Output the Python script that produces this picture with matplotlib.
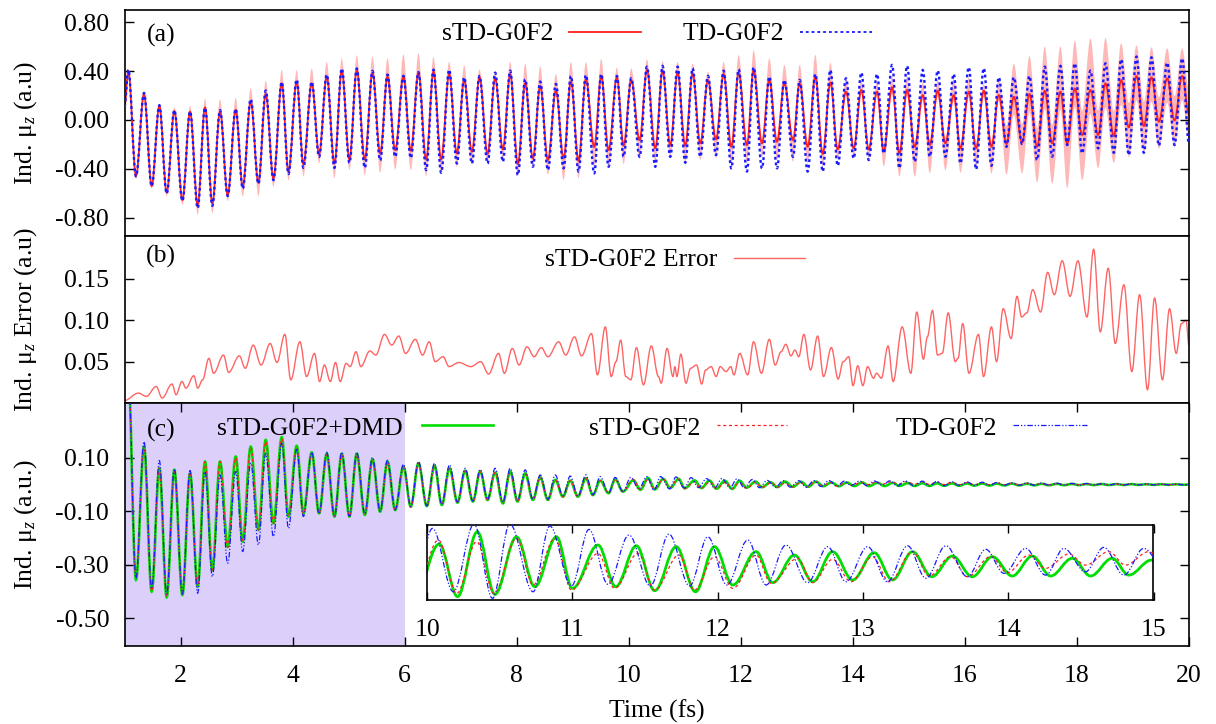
import numpy as np
import matplotlib
matplotlib.use("Agg")
import matplotlib.pyplot as plt
from matplotlib.path import Path
from matplotlib.patches import PathPatch
from matplotlib.ticker import FormatStrFormatter

plt.rcParams.update({
    "font.family": "Liberation Serif",
    "mathtext.fontset": "custom",
    "mathtext.rm": "Liberation Serif",
    "mathtext.it": "Liberation Serif:italic",
    "axes.unicode_minus": False,
})
FS = 18.5

# ---------------- panel (a): extrema of the induced dipole ----------------
ta = [1.000, 1.068, 1.205, 1.348, 1.485, 1.622, 1.753, 1.890, 2.033, 2.170,
      2.306, 2.437, 2.568, 2.705, 2.842, 2.985, 3.110, 3.253, 3.390, 3.521,
      3.658, 3.807, 3.926, 4.074, 4.193, 4.342, 4.473, 4.610, 4.747, 4.878,
      5.015, 5.146, 5.289, 5.426, 5.563, 5.694, 5.831, 5.979, 6.110, 6.247,
      6.384, 6.515, 6.652, 6.795, 6.932, 7.063, 7.200, 7.337, 7.480, 7.616,
      7.753, 7.884, 8.021, 8.152, 8.289, 8.420, 8.557, 8.700, 8.837, 8.968,
      9.104, 9.235, 9.384, 9.509, 9.640, 9.789, 9.908, 10.045, 10.194, 10.325,
      10.474, 10.604, 10.741, 10.872, 11.009, 11.140, 11.277, 11.414, 11.557, 11.694,
      11.831, 11.962, 12.110, 12.229, 12.378, 12.509, 12.646, 12.777, 12.932, 13.051,
      13.194, 13.331, 13.462, 13.599, 13.730, 13.878, 14.015, 14.152, 14.283, 14.432,
      14.551, 14.700, 14.831, 14.968, 15.105, 15.248, 15.373, 15.515, 15.652, 15.801,
      15.920, 16.069, 16.200, 16.337, 16.474, 16.605, 16.742, 16.873, 17.021, 17.152,
      17.289, 17.426, 17.557, 17.706, 17.825, 17.962, 18.093, 18.241, 18.378, 18.509,
      18.658, 18.789, 18.926, 19.063, 19.194, 19.331, 19.462, 19.611, 19.741, 19.878,
      20.000]
red_a = [0.11, 0.400, -0.457, 0.212, -0.539, 0.114, -0.593, 0.073, -0.653, 0.068,
         -0.694, 0.103, -0.680, 0.068, -0.612, 0.082, -0.544, 0.150, -0.512, 0.212,
         -0.476, 0.299, -0.422, 0.313, -0.359, 0.299, -0.278, 0.354, -0.354, 0.403,
         -0.321, 0.408, -0.321, 0.386, -0.272, 0.354, -0.245, 0.354, -0.250, 0.386,
         -0.321, 0.394, -0.321, 0.375, -0.272, 0.326, -0.258, 0.348, -0.277, 0.340,
         -0.239, 0.375, -0.359, 0.299, -0.313, 0.277, -0.326, 0.239, -0.313, 0.313,
         -0.332, 0.332, -0.220, 0.359, -0.245, 0.348, -0.209, 0.326, -0.163, 0.408,
         -0.231, 0.403, -0.204, 0.386, -0.209, 0.381, -0.190, 0.326, -0.158, 0.375,
         -0.218, 0.386, -0.204, 0.408, -0.190, 0.326, -0.177, 0.299, -0.163, 0.299,
         -0.218, 0.354, -0.277, 0.305, -0.239, 0.231, -0.231, 0.245, -0.239, 0.231,
         -0.258, 0.267, -0.272, 0.245, -0.218, 0.204, -0.204, 0.239, -0.190, 0.204,
         -0.231, 0.231, -0.231, 0.239, -0.218, 0.204, -0.196, 0.190, -0.185, 0.212,
         -0.218, 0.239, -0.190, 0.231, -0.196, 0.258, -0.122, 0.245, -0.122, 0.299,
         -0.131, 0.326, -0.060, 0.359, -0.049, 0.348, -0.014, 0.340, -0.005, 0.359,
         0.05]
blue_a = [0.11, 0.41, -0.46, 0.22, -0.54, 0.12, -0.60, 0.08, -0.66, 0.07,
          -0.72, 0.10, -0.70, 0.08, -0.62, 0.09, -0.56, 0.17, -0.52, 0.24,
          -0.49, 0.31, -0.44, 0.33, -0.39, 0.31, -0.30, 0.37, -0.39, 0.42,
          -0.35, 0.42, -0.39, 0.40, -0.33, 0.37, -0.30, 0.36, -0.31, 0.39,
          -0.408, 0.41, -0.43, 0.41, -0.354, 0.348, -0.354, 0.359, -0.354, 0.386,
          -0.340, 0.402, -0.449, 0.332, -0.381, 0.313, -0.408, 0.294, -0.394, 0.359,
          -0.420, 0.367, -0.435, 0.375, -0.381, 0.359, -0.299, 0.340, -0.300, 0.435,
          -0.381, 0.441, -0.300, 0.435, -0.348, 0.422, -0.300, 0.359, -0.286, 0.402,
          -0.394, 0.413, -0.420, 0.430, -0.394, 0.354, -0.394, 0.326, -0.300, 0.326,
          -0.420, 0.375, -0.420, 0.408, -0.373, 0.340, -0.313, 0.386, -0.326, 0.375,
          -0.272, 0.449, -0.394, 0.441, -0.340, 0.408, -0.299, 0.403, -0.299, 0.375,
          -0.354, 0.430, -0.403, 0.422, -0.373, 0.348, -0.218, 0.348, -0.196, 0.359,
          -0.326, 0.435, -0.299, 0.441, -0.204, 0.462, -0.272, 0.403, -0.231, 0.462,
          -0.267, 0.495, -0.286, 0.517, -0.267, 0.511, -0.209, 0.468, -0.204, 0.503,
          -0.20]
# spread of the sTD band beyond each extremum (outward) and towards the centre (inward)
band_out = [0.02, 0.02, 0.02, 0.02, 0.02, 0.02, 0.03, 0.03, 0.04, 0.05,
            0.08, 0.07, 0.08, 0.10, 0.05, 0.10, 0.08, 0.11, 0.11, 0.11,
            0.07, 0.11, 0.07, 0.095, 0.10, 0.12, 0.076, 0.12, 0.12, 0.10,
            0.087, 0.12, 0.13, 0.13, 0.16, 0.15, 0.16, 0.18, 0.16, 0.16,
            0.136, 0.12, 0.114, 0.10, 0.11, 0.12, 0.11, 0.065, 0.076, 0.054,
            0.087, 0.10, 0.10, 0.16, 0.07, 0.16, 0.12, 0.136, 0.177, 0.16,
            0.144, 0.14, 0.175, 0.14, 0.15, 0.08, 0.15, 0.095, 0.15, 0.087,
            0.11, 0.079, 0.095, 0.09, 0.144, 0.08, 0.136, 0.068, 0.15, 0.10,
            0.15, 0.144, 0.15, 0.16, 0.11, 0.177, 0.15, 0.15, 0.177, 0.15,
            0.136, 0.177, 0.10, 0.163, 0.087, 0.11, 0.07, 0.08, 0.07, 0.08,
            0.12, 0.09, 0.19, 0.11, 0.245, 0.10, 0.23, 0.087, 0.22, 0.136,
            0.20, 0.117, 0.16, 0.06, 0.22, 0.136, 0.25, 0.27, 0.25, 0.31,
            0.29, 0.36, 0.33, 0.37, 0.36, 0.39, 0.37, 0.42, 0.27, 0.37,
            0.22, 0.30, 0.24, 0.25, 0.21, 0.245, 0.22, 0.245, 0.21, 0.225,
            0.20]
band_in = [0.02] * 100 + [0.05] * 16 + [0.15] * 10 + [0.2] * 15

# ---------------- panel (b): error of sTD-G0F2 ----------------
tb = [1.0, 1.249, 1.390, 1.566, 1.672, 1.849, 1.920, 2.026, 2.096, 2.237,
      2.308, 2.393, 2.506, 2.591, 2.767, 2.859, 3.050, 3.156, 3.297, 3.438,
      3.600, 3.721, 3.862, 3.968, 4.130, 4.250, 4.391, 4.483, 4.568, 4.674,
      4.766, 4.850, 4.956, 5.027, 5.133, 5.218, 5.380, 5.486, 5.641, 5.769,
      5.896, 6.016, 6.192, 6.320, 6.439, 6.545, 6.686, 6.793, 6.969, 7.181,
      7.357, 7.499, 7.675, 7.781, 7.922, 8.043, 8.184, 8.311, 8.438, 8.558,
      8.749, 8.876, 9.031, 9.158, 9.335, 9.441, 9.582, 9.687,
      9.772, 9.856, 9.947, 10.038, 10.137, 10.263, 10.403, 10.530, 10.579, 10.684,
      10.789, 10.824, 10.859, 10.930, 11.021, 11.105, 11.210, 11.302, 11.372, 11.470,
      11.561, 11.631, 11.737, 11.821, 11.877, 11.982, 12.123, 12.228, 12.368, 12.509,
      12.614, 12.719, 12.803, 12.895, 12.965, 13.035, 13.126, 13.245, 13.372, 13.477,
      13.617, 13.737, 13.828, 13.926, 14.003, 14.088, 14.179, 14.263, 14.368, 14.424,
      14.509, 14.628, 14.719, 14.880, 15.035, 15.140, 15.260, 15.330, 15.421, 15.512,
      15.596, 15.702, 15.828, 15.877, 15.961, 16.073, 16.242, 16.333, 16.474, 16.565,
      16.684, 16.824, 16.930, 17.014, 17.105, 17.210, 17.351, 17.477, 17.596, 17.737,
      17.877, 18.017, 18.179, 18.298, 18.417, 18.558, 18.684, 18.838, 18.979, 19.119,
      19.259, 19.386, 19.526, 19.653, 19.772, 19.863, 19.947, 20.0]
err_b = [0.003, 0.012, 0.008, 0.020, 0.006, 0.023, 0.010, 0.026, 0.018, 0.033,
         0.018, 0.028, 0.054, 0.036, 0.058, 0.037, 0.057, 0.042, 0.070, 0.046,
         0.072, 0.049, 0.083, 0.028, 0.074, 0.032, 0.060, 0.026, 0.046, 0.026,
         0.049, 0.026, 0.048, 0.044, 0.062, 0.044, 0.063, 0.058, 0.083, 0.070,
         0.081, 0.060, 0.077, 0.058, 0.074, 0.050, 0.056, 0.044, 0.049, 0.044,
         0.050, 0.035, 0.060, 0.036, 0.066, 0.046, 0.068, 0.056, 0.067, 0.056,
         0.074, 0.058, 0.080, 0.057, 0.084, 0.034, 0.092, 0.032,
         0.050, 0.076, 0.032, 0.028, 0.067, 0.022, 0.069, 0.032, 0.024, 0.066,
         0.032, 0.044, 0.032, 0.059, 0.024, 0.042, 0.046, 0.023, 0.040, 0.044,
         0.032, 0.044, 0.038, 0.044, 0.034, 0.060, 0.034, 0.074, 0.036, 0.077,
         0.046, 0.062, 0.071, 0.057, 0.064, 0.056, 0.083, 0.040, 0.081, 0.032,
         0.067, 0.029, 0.050, 0.056, 0.021, 0.045, 0.021, 0.044, 0.030, 0.036,
         0.030, 0.069, 0.026, 0.092, 0.036, 0.110, 0.053, 0.080, 0.112, 0.058,
         0.060, 0.109, 0.050, 0.054, 0.096, 0.036, 0.083, 0.032, 0.092, 0.050,
         0.114, 0.078, 0.129, 0.104, 0.109, 0.137, 0.110, 0.158, 0.131, 0.172,
         0.129, 0.172, 0.104, 0.186, 0.086, 0.163, 0.072, 0.143, 0.038, 0.131,
         0.016, 0.127, 0.028, 0.114, 0.060, 0.096, 0.100, 0.070]

# ---------------- panel (c): DMD extrapolation ----------------
tc_early = [1.000, 1.060, 1.205, 1.348, 1.485, 1.622, 1.753, 1.890, 2.033, 2.170,
            2.306, 2.437, 2.568, 2.705, 2.842, 2.985, 3.110, 3.253, 3.390, 3.521,
            3.658, 3.807, 3.926, 4.074, 4.193, 4.342, 4.473, 4.610, 4.747, 4.878,
            5.015, 5.146, 5.289, 5.426, 5.563, 5.694, 5.831, 5.979, 6.110, 6.247,
            6.396, 6.533, 6.664, 6.801, 6.944, 7.081, 7.218, 7.349, 7.480, 7.616,
            7.753, 7.884, 8.015, 8.152, 8.289, 8.420, 8.557, 8.688, 8.825, 8.956,
            9.093, 9.235, 9.360, 9.491, 9.640, 9.759, 9.896]
dmd_early = [0.38, 0.45, -0.357, 0.141, -0.401, 0.060, -0.422, 0.054, -0.413, 0.041,
             -0.382, 0.085, -0.320, 0.085, -0.233, 0.104, -0.214, 0.141, -0.170, 0.166,
             -0.145, 0.176, -0.120, 0.144, -0.108, 0.119, -0.108, 0.114, -0.120, 0.114,
             -0.120, 0.114, -0.114, 0.094, -0.102, 0.085, -0.096, 0.066, -0.083, 0.079,
             -0.081, 0.069, -0.077, 0.060, -0.068, 0.051, -0.064, 0.048, -0.058, 0.044,
             -0.071, 0.048, -0.064, 0.041, -0.058, 0.026, -0.058, 0.017, -0.046, 0.014,
             -0.046, 0.023, -0.040, 0.014, -0.033, 0.019, -0.027]
std_early = [0.38, 0.45, -0.35, 0.14, -0.40, 0.06, -0.42, 0.054, -0.41, 0.045,
             -0.38, 0.085, -0.32, 0.085, -0.235, 0.10, -0.21, 0.14, -0.17, 0.16,
             -0.145, 0.17, -0.12, 0.14, -0.11, 0.115, -0.11, 0.11, -0.12, 0.11,
             -0.12, 0.11, -0.11, 0.09, -0.10, 0.08, -0.095, 0.066, -0.085, 0.079,
             -0.08, 0.069, -0.075, 0.06, -0.068, 0.05, -0.064, 0.047, -0.058, 0.044,
             -0.07, 0.046, -0.063, 0.04, -0.057, 0.026, -0.057, 0.017, -0.046, 0.014,
             -0.046, 0.022, -0.04, 0.014, -0.033, 0.019, -0.027]
td_early = [0.38, 0.45, -0.35, 0.16, -0.39, 0.089, -0.41, 0.058, -0.41, 0.052,
            -0.407, 0.048, -0.345, 0.035, -0.295, 0.048, -0.251, 0.08, -0.226, 0.116,
            -0.195, 0.154, -0.164, 0.13, -0.12, 0.12, -0.11, 0.12, -0.12, 0.12,
            -0.12, 0.12, -0.11, 0.10, -0.10, 0.09, -0.095, 0.075, -0.083, 0.085,
            -0.08, 0.079, -0.075, 0.073, -0.066, 0.06, -0.062, 0.056, -0.056, 0.06,
            -0.066, 0.06, -0.06, 0.054, -0.055, 0.035, -0.055, 0.035, -0.044, 0.031,
            -0.044, 0.035, -0.038, 0.029, -0.032, 0.026, -0.027]

# 10-15 fs window
t_dmd_mid = [10.083, 10.209, 10.345, 10.466, 10.615, 10.741, 10.890, 11.000, 11.176, 11.298,
             11.440, 11.566, 11.714, 11.847, 11.978, 12.104, 12.264, 12.379, 12.528, 12.654,
             12.791, 12.929, 13.077, 13.203, 13.341, 13.474, 13.616, 13.753, 13.891, 14.028,
             14.166, 14.292, 14.441, 14.567, 14.716, 14.830, 14.986]
dmd_mid = [0.0154, -0.0203, 0.0237, -0.0188, 0.0203, -0.0136, 0.0203, -0.0147, 0.0147, -0.0136,
           0.0142, -0.0163, 0.0136, -0.0170, 0.0136, -0.0124, 0.0102, -0.0108, 0.0079, -0.0102,
           0.0102, -0.0090, 0.0095, -0.0090, 0.0102, -0.0068, 0.0072, -0.0068, 0.0068, -0.0063,
           0.0072, -0.0063, 0.0057, -0.0063, 0.0057, -0.0057, 0.0045]
t_std_mid = [10.077, 10.203, 10.340, 10.459, 10.615, 10.729, 10.878, 10.993, 11.176, 11.290,
             11.451, 11.566, 11.733, 11.840, 11.978, 12.104, 12.264, 12.367, 12.550, 12.654,
             12.791, 12.917, 13.066, 13.181, 13.341, 13.455, 13.604, 13.719, 13.879, 13.994,
             14.143, 14.257, 14.418, 14.532, 14.693, 14.807, 14.967]
std_mid = [0.0181, -0.0181, 0.0170, -0.0181, 0.0192, -0.0124, 0.0192, -0.0158, 0.0090, -0.0147,
           0.0090, -0.0158, 0.0079, -0.0158, 0.0068, -0.0147, 0.0079, -0.0113, 0.0057, -0.0108,
           0.0050, -0.0102, 0.0068, -0.0102, 0.0102, -0.0063, 0.0068, -0.0068, 0.0068, -0.0041,
           0.0079, -0.0011, 0.0086, 0.0011, 0.0102, 0.0011, 0.0102]
t_td_mid = [10.036, 10.180, 10.322, 10.450, 10.569, 10.729, 10.844, 10.993, 11.114, 11.245,
            11.389, 11.536, 11.664, 11.806, 11.932, 12.063, 12.207, 12.333, 12.470, 12.619,
            12.757, 12.883, 13.032, 13.169, 13.307, 13.433, 13.570, 13.719, 13.845, 13.971,
            14.120, 14.257, 14.383, 14.532, 14.658, 14.796, 14.933]
td_mid = [0.0260, -0.0170, 0.0289, -0.0215, 0.0289, -0.0170, 0.0276, -0.0131, 0.0253, -0.0120,
          0.0215, -0.0131, 0.0221, -0.0131, 0.0203, -0.0124, 0.0181, -0.0124, 0.0147, -0.0108,
          0.0136, -0.0102, 0.0136, -0.0102, 0.0142, -0.0079, 0.0142, -0.0068, 0.0118, -0.0045,
          0.0124, -0.0057, 0.0124, -0.0034, 0.0131, -0.0057, 0.0124]

tc_late = [15.10, 15.24, 15.37, 15.50, 15.63, 15.77, 15.90, 16.04, 16.17, 16.31,
           16.44, 16.57, 16.70, 16.84, 16.97, 17.11, 17.24, 17.37, 17.50, 17.64,
           17.77, 17.91, 18.04, 18.17, 18.30, 18.44, 18.57, 18.71, 18.84, 18.97,
           19.10, 19.24, 19.37, 19.50, 19.64, 19.77, 19.90, 20.00]
dmd_late = [-0.0060, 0.0042, -0.0056, 0.0040, -0.0052, 0.0036, -0.0050, 0.0034, -0.0046, 0.0030,
            -0.0044, 0.0028, -0.0040, 0.0026, -0.0037, 0.0022, -0.0035, 0.0020, -0.0032, 0.0018,
            -0.0030, 0.0015, -0.0028, 0.0013, -0.0026, 0.0011, -0.0024, 0.0009, -0.0022, 0.0008,
            -0.0020, 0.0006, -0.0019, 0.0005, -0.0017, 0.0004, -0.0016, -0.0006]
std_late = [0.0005, 0.0095, 0.0000, 0.0085, -0.0005, 0.0075, -0.0010, 0.0065, -0.0012, 0.0055,
            -0.0015, 0.0048, -0.0016, 0.0040, -0.0018, 0.0034, -0.0019, 0.0028, -0.0020, 0.0024,
            -0.0020, 0.0020, -0.0020, 0.0016, -0.0020, 0.0013, -0.0019, 0.0011, -0.0018, 0.0009,
            -0.0017, 0.0008, -0.0016, 0.0006, -0.0015, 0.0005, -0.0014, -0.0005]
td_late = [-0.0060, 0.0120, -0.0055, 0.0110, -0.0050, 0.0100, -0.0045, 0.0090, -0.0042, 0.0080,
           -0.0040, 0.0070, -0.0037, 0.0062, -0.0035, 0.0055, -0.0033, 0.0048, -0.0030, 0.0042,
           -0.0028, 0.0036, -0.0026, 0.0030, -0.0024, 0.0026, -0.0022, 0.0022, -0.0021, 0.0018,
           -0.0020, 0.0015, -0.0019, 0.0012, -0.0018, 0.0010, -0.0017, -0.0005]

RED = "#ff2020"
PINK = "#ffb8b8"
BLUE = "#1a1aff"
GREEN = "#00dd00"
LAVENDER = "#dcd0fa"


def bezier(t, v):
    """Smooth path through the extrema (flat tangent at each one)."""
    verts = [(t[0], v[0])]
    codes = [Path.MOVETO]
    for i in range(1, len(t)):
        h = 0.36 * (t[i] - t[i - 1])
        verts += [(t[i - 1] + h, v[i - 1]), (t[i] - h, v[i]), (t[i], v[i])]
        codes += [Path.CURVE4] * 3
    return verts, codes


def curve(ax, t, v, **kw):
    verts, codes = bezier(t, v)
    ax.add_patch(PathPatch(Path(verts, codes), fill=False, **kw))


def band(ax, t, v, out, inn, **kw):
    v = np.asarray(v)
    peak = np.arange(len(v)) % 2 == 1
    hi = v + np.where(peak, out, inn)
    lo = v - np.where(peak, inn, out)
    vu, cu = bezier(t, hi)
    vl, cl = bezier(t[::-1], lo[::-1])
    cl[0] = Path.LINETO
    path = Path(vu + vl + [vu[0]], cu + cl + [Path.CLOSEPOLY])
    ax.add_patch(PathPatch(path, **kw))


def key(ax, text, xt, x0, x1, yt, yl, **kw):
    ax.text(xt, yt, text, transform=ax.transAxes, ha="right", va="center", fontsize=FS)
    ax.plot([x0, x1], [yl, yl], transform=ax.transAxes, **kw)


def style(ax, xticks):
    for s in ax.spines.values():
        s.set_linewidth(1.2)
    ax.set_xlim(1, 20)
    ax.tick_params(axis="y", direction="in", left=True, right=True, length=6.5,
                   width=1, labelsize=FS, pad=11)
    if xticks:
        ax.set_xticks(range(2, 21, 2))
        ax.tick_params(axis="x", direction="in", top=True, bottom=True, length=6.5,
                       width=1, labelsize=FS, pad=14)
    else:
        ax.tick_params(axis="x", bottom=False, top=False, labelbottom=False)
    ax.yaxis.set_major_formatter(FormatStrFormatter("%.2f"))


fig = plt.figure(figsize=(12.16, 7.24), dpi=100)
L, W = 124.5 / 1216, 1064.5 / 1216


def axes_px(top, bottom):
    return fig.add_axes([L, 1 - bottom / 724, W, (bottom - top) / 724])


ax_a = axes_px(10, 236)
ax_b = axes_px(236, 403)
ax_c = axes_px(403, 646)

DOT_B = (0, (1.2, 1.2))

# (a)
style(ax_a, False)
ax_a.set_ylim(-0.947, 0.898)
ax_a.set_yticks([0.8, 0.4, 0.0, -0.4, -0.8])
ta_arr = np.array(ta)
band(ax_a, ta_arr, red_a, np.array(band_out), np.array(band_in),
     facecolor=PINK, edgecolor="none", zorder=1)
curve(ax_a, ta, red_a, edgecolor=RED, lw=1.3, zorder=2)
curve(ax_a, ta, blue_a, edgecolor=BLUE, lw=1.7, linestyle=DOT_B, zorder=3)
ax_a.text(0.0211, 0.889, "(a)", transform=ax_a.transAxes, ha="left", va="center", fontsize=FS)
key(ax_a, "sTD-G0F2", 0.4025, 0.4176, 0.4852, 0.894, 0.903, color=RED, lw=1.3)
key(ax_a, "TD-G0F2", 0.6195, 0.6346, 0.7022, 0.894, 0.903, color=BLUE, lw=1.3,
    linestyle=(0, (1.6, 1.6)))
ax_a.set_ylabel("Ind. μ$_z$ (a.u)", fontsize=FS)
ax_a.yaxis.set_label_coords(-0.080, 0.5)

# (b)
style(ax_b, False)
ax_b.set_ylim(0.0, 0.202)
ax_b.set_yticks([0.05, 0.10, 0.15])
curve(ax_b, tb, err_b, edgecolor="#ff6464", lw=1.0)
ax_b.text(0.0202, 0.880, "(b)", transform=ax_b.transAxes, ha="left", va="center", fontsize=FS)
key(ax_b, "sTD-G0F2 Error", 0.5566, 0.5722, 0.6393, 0.856, 0.868, color="#ff6464", lw=1.0)
ax_b.set_ylabel("Ind. μ$_z$ Error (a.u)", fontsize=FS)
ax_b.yaxis.set_label_coords(-0.080, 0.5)

# (c)
style(ax_c, True)
ax_c.set_ylim(-0.604, 0.304)
ax_c.set_yticks([0.1, -0.1, -0.3, -0.5])
ax_c.axvspan(1, 6, color=LAVENDER, lw=0, zorder=0)

t_dmd = tc_early + t_dmd_mid + tc_late
v_dmd = dmd_early + dmd_mid + dmd_late
t_std = tc_early + t_std_mid + tc_late
v_std = std_early + std_mid + std_late
t_td = tc_early + t_td_mid + tc_late
v_td = td_early + td_mid + td_late

DASH_R = (0, (2.4, 2.2))
DASH_B = (0, (4.5, 1.5, 1.0, 1.5, 1.0, 1.5))

curve(ax_c, t_dmd, v_dmd, edgecolor=GREEN, lw=1.9, zorder=2)
curve(ax_c, t_std, v_std, edgecolor=RED, lw=0.9, linestyle=DASH_R, zorder=3)
curve(ax_c, t_td, v_td, edgecolor=BLUE, lw=0.9, linestyle=DASH_B, zorder=4)

ax_c.text(0.0211, 0.885, "(c)", transform=ax_c.transAxes, ha="left", va="center", fontsize=FS)
key(ax_c, "sTD-G0F2+DMD", 0.2616, 0.2792, 0.3462, 0.893, 0.9095, color=GREEN, lw=1.9)
key(ax_c, "sTD-G0F2", 0.5406, 0.5563, 0.6221, 0.893, 0.9095, color=RED, lw=0.9,
    linestyle=DASH_R)
key(ax_c, "TD-G0F2", 0.8196, 0.8347, 0.9042, 0.893, 0.9095, color=BLUE, lw=0.9,
    linestyle=DASH_B)
ax_c.set_ylabel("Ind. μ$_z$ (a.u.)", fontsize=FS)
ax_c.yaxis.set_label_coords(-0.080, 0.5)
ax_c.set_xlabel("Time (fs)", fontsize=FS)
ax_c.xaxis.set_label_coords(0.5, -0.222)

# inset 10-15 fs
ax_in = fig.add_axes([427.2 / 1216, 1 - 600 / 724, 726.3 / 1216, 75 / 724])
for s in ax_in.spines.values():
    s.set_linewidth(1.2)
ax_in.set_xlim(10, 15)
ax_in.set_ylim(-0.0226, 0.0283)
ax_in.set_xticks(range(10, 16))
ax_in.set_yticks([])
ax_in.tick_params(axis="x", direction="in", top=True, bottom=True, length=6,
                  width=1, labelsize=FS, pad=14)
curve(ax_in, t_dmd, v_dmd, edgecolor=GREEN, lw=2.0, zorder=2)
curve(ax_in, t_std, v_std, edgecolor=RED, lw=0.9, linestyle=DASH_R, zorder=3)
curve(ax_in, t_td, v_td, edgecolor=BLUE, lw=0.9, linestyle=DASH_B, zorder=4)

fig.savefig("out.png", dpi=100)
